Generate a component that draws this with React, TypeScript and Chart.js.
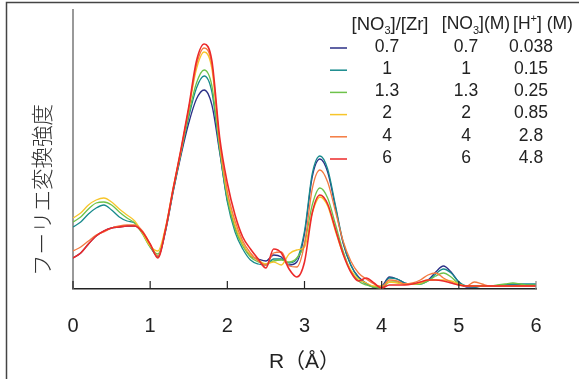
import { useEffect, useRef } from "react";
import { Chart, registerables } from "chart.js";

Chart.register(...registerables);

// R (Å) sample positions
const R_VALUES = [
  0, 0.1, 0.2, 0.3, 0.4, 0.5, 0.6, 0.7, 0.8, 0.9,
  1.0, 1.1, 1.2, 1.3, 1.4, 1.5, 1.6, 1.7, 1.8, 1.9,
  2.0, 2.1, 2.2, 2.3, 2.4, 2.5, 2.6, 2.7, 2.8, 2.9,
  3.0, 3.1, 3.2, 3.3, 3.4, 3.5, 3.6, 3.7, 3.8, 3.9,
  4.0, 4.1, 4.2, 4.3, 4.4, 4.5, 4.6, 4.7, 4.8, 4.9,
  5.0, 5.1, 5.2, 5.3, 5.4, 5.5, 5.6, 5.7, 5.8, 5.9, 6.0,
];

const X_TICKS = [0, 1, 2, 3, 4, 5, 6];

// Fourier transform magnitude (arbitrary units)
const S_07 = [
  31, 36, 45, 53, 58, 61, 62, 63, 63, 57,
  44, 32, 58, 98, 134, 166, 190, 199, 184, 137,
  89, 62, 45, 33, 30, 28, 34, 32, 24, 27,
  55, 112, 130, 117, 82, 46, 24, 12, 6, 2,
  3, 12, 10, 6, 5, 6, 9, 17, 23, 17,
  7, 2, 2, 3, 3, 3, 4, 4, 4, 4, 4,
];
const S_1 = [
  62, 67, 75, 81, 84, 79, 72, 68, 66, 56,
  42, 33, 59, 99, 136, 172, 201, 213, 197, 139,
  87, 57, 40, 29, 25, 24, 30, 30, 26, 30,
  58, 115, 133, 120, 84, 47, 24, 11, 5, 2,
  2, 11, 10, 6, 5, 5, 8, 15, 20, 16,
  7, 3, 2, 3, 3, 3, 4, 5, 5, 5, 5,
];
const S_13 = [
  67, 72, 80, 86, 87, 84, 77, 71, 66, 55,
  42, 35, 60, 100, 137, 175, 206, 219, 203, 141,
  91, 60, 43, 32, 27, 25, 28, 29, 27, 31,
  45, 84, 101, 91, 65, 38, 18, 8, 4, 2,
  1, 7, 7, 5, 5, 5, 8, 13, 16, 12,
  5, 3, 3, 3, 3, 4, 5, 6, 5, 4, 4,
];
const S_2 = [
  71, 76, 84, 89, 91, 87, 80, 74, 68, 56,
  43, 38, 62, 102, 139, 180, 220, 237, 220, 146,
  95, 64, 45, 34, 29, 25, 27, 24, 35, 39,
  42, 76, 92, 83, 58, 35, 19, 10, 6, 3,
  3, 7, 6, 5, 5, 6, 9, 9, 9, 8,
  5, 3, 3, 3, 3, 3, 3, 3, 3, 3, 3,
];
const S_4 = [
  38, 42, 48, 54, 57, 61, 63, 64, 64, 58,
  45, 33, 60, 101, 139, 180, 224, 241, 224, 147,
  98, 68, 48, 36, 28, 24, 36, 37, 23, 22,
  45, 100, 119, 107, 78, 48, 28, 16, 10, 5,
  2, 9, 8, 5, 6, 9, 14, 16, 11, 7,
  4, 3, 7, 5, 3, 3, 3, 3, 3, 3, 3,
];
const S_6 = [
  31, 36, 45, 53, 58, 61, 62, 63, 63, 57,
  45, 31, 60, 101, 140, 182, 228, 245, 228, 152,
  106, 74, 52, 40, 30, 21, 40, 36, 20, 12,
  27, 76, 94, 85, 60, 35, 17, 8, 11, 6,
  1, 4, 4, 4, 5, 7, 9, 9, 8, 6,
  4, 3, 3, 3, 3, 3, 3, 3, 3, 3, 3,
];

// legend table
const RATIO_LABELS = ["0.7", "1", "1.3", "2", "4", "6"];
const NO3_LABELS = ["0.7", "1", "1.3", "2", "4", "6"];
const H_LABELS = ["0.038", "0.15", "0.25", "0.85", "2.8", "4.8"];
const SERIES = [S_07, S_1, S_13, S_2, S_4, S_6];
const COLORS = ["#2b2f86", "#178a8c", "#6ec24a", "#f7c52a", "#f47a40", "#ec2a2a"];
const DRAW_ORDER = [5, 4, 3, 2, 1, 0];

const Y_TITLE = "フーリエ変換強度";
const X_TITLE = "R（Å）";

const LATIN = '"Liberation Sans", Arial, "Noto Sans CJK JP", sans-serif';

type Part = { t: string; mode?: "sub" | "sup" };

function drawRich(ctx: CanvasRenderingContext2D, parts: Part[], cx: number, cy: number, size: number) {
  const small = Math.round(size * 0.62);
  let total = 0;
  const widths = parts.map((p) => {
    ctx.font = `${p.mode ? small : size}px ${LATIN}`;
    const w = ctx.measureText(p.t).width;
    total += w;
    return w;
  });
  let x = cx - total / 2;
  const base = cy + size * 0.36;
  ctx.textAlign = "left";
  ctx.textBaseline = "alphabetic";
  parts.forEach((p, i) => {
    ctx.font = `${p.mode ? small : size}px ${LATIN}`;
    const dy = p.mode === "sub" ? size * 0.25 : p.mode === "sup" ? -size * 0.42 : 0;
    ctx.fillText(p.t, x, base + dy);
    x += widths[i];
  });
}

const decor = {
  id: "decor",
  afterDraw(chart: any) {
    const ctx: CanvasRenderingContext2D = chart.ctx;
    const area = chart.chartArea;
    const xs = chart.scales.x;
    ctx.save();

    // outer frame (left & top)
    ctx.strokeStyle = "#444";
    ctx.lineWidth = 1.5;
    ctx.beginPath();
    ctx.moveTo(6.5, 379);
    ctx.lineTo(6.5, 2.5);
    ctx.lineTo(579, 2.5);
    ctx.stroke();

    // inward tick marks
    ctx.lineWidth = 1.2;
    X_TICKS.forEach((v, i) => {
      const px = xs.getPixelForValue(v);
      ctx.strokeStyle = i === X_TICKS.length - 1 ? "#888" : "#222";
      ctx.beginPath();
      ctx.moveTo(px, area.bottom);
      ctx.lineTo(px, area.bottom - 8);
      ctx.stroke();
    });

    // y title
    ctx.save();
    ctx.translate(42, 190);
    ctx.rotate(-Math.PI / 2);
    ctx.font = '300 21.5px "Noto Sans CJK JP", sans-serif';
    ctx.fillStyle = "#333";
    ctx.textAlign = "center";
    ctx.textBaseline = "middle";
    ctx.fillText(Y_TITLE, 0, 0);
    ctx.restore();

    // legend table
    ctx.fillStyle = "#222";
    drawRich(ctx, [{ t: "[NO" }, { t: "3", mode: "sub" }, { t: "]/[Zr]" }], 390, 23, 18.5);
    drawRich(ctx, [{ t: "[NO" }, { t: "3", mode: "sub" }, { t: "](M)" }], 476, 23, 17.5);
    drawRich(ctx, [{ t: "[H" }, { t: "+", mode: "sup" }, { t: "] (M)" }], 543, 23, 17.5);

    const size = 17.5;
    ctx.font = `${size}px ${LATIN}`;
    ctx.textAlign = "center";
    ctx.textBaseline = "middle";
    RATIO_LABELS.forEach((lab, i) => {
      const y = 47 + i * 22.2;
      ctx.strokeStyle = COLORS[i];
      ctx.lineWidth = 1.5;
      ctx.beginPath();
      ctx.moveTo(330, y + 1);
      ctx.lineTo(347, y + 1);
      ctx.stroke();
      ctx.fillStyle = "#222";
      ctx.fillText(lab, 387, y);
      ctx.fillText(NO3_LABELS[i], 466, y);
      ctx.fillText(H_LABELS[i], 531, y);
    });

    ctx.restore();
  },
};

export default function App() {
  const ref = useRef<HTMLCanvasElement>(null);

  useEffect(() => {
    if (!ref.current) return;
    const chart = new Chart(ref.current, {
      type: "line",
      data: {
        datasets: SERIES.map((s, i) => ({
          label: RATIO_LABELS[i],
          data: R_VALUES.map((r, k) => ({ x: r, y: s[k] })),
          borderColor: COLORS[i],
          borderWidth: i === 5 ? 1.6 : 1.3,
          pointRadius: 0,
          fill: false,
          cubicInterpolationMode: "monotone" as const,
          order: DRAW_ORDER[i],
        })),
      },
      options: {
        animation: false,
        responsive: false,
        maintainAspectRatio: false,
        layout: { padding: { top: 10, right: 43, left: 0, bottom: 0 } },
        plugins: { legend: { display: false }, tooltip: { enabled: false } },
        scales: {
          x: {
            type: "linear",
            min: 0,
            max: 6,
            afterFit: (s: any) => {
              s.height = 90;
            },
            afterBuildTicks: (s: any) => {
              s.ticks = X_TICKS.map((v) => ({ value: v }));
            },
            ticks: {
              padding: 25,
              color: "#222",
              font: { family: LATIN, size: 20 },
            },
            grid: { display: true, drawOnChartArea: false, drawTicks: false },
            border: { color: "#222", width: 1.5 },
            title: {
              display: true,
              text: X_TITLE,
              color: "#222",
              font: { family: LATIN, size: 21 },
              padding: { top: 0, bottom: 4 },
            },
          },
          y: {
            min: 0,
            max: 279,
            afterFit: (s: any) => {
              s.width = 73;
            },
            ticks: { display: false },
            grid: { display: true, drawOnChartArea: false, drawTicks: false },
            border: { color: "#999", width: 2 },
          },
        },
      },
      plugins: [decor],
    });
    return () => chart.destroy();
  }, []);

  return (
    <div style={{ position: "fixed", left: 0, top: 0, width: 579, height: 379, background: "#fff" }}>
      <canvas ref={ref} width={579} height={379} style={{ width: 579, height: 379, display: "block" }} />
    </div>
  );
}
